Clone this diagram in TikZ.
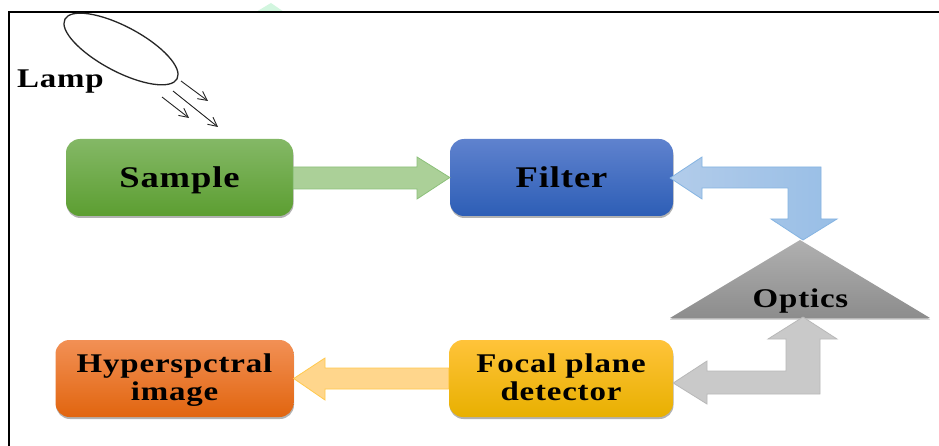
\documentclass[tikz,border=0pt]{standalone}
\usepackage{fontspec}
\setmainfont{Liberation Serif}
\newfontfamily\lblfont[FakeStretch=1.22,LetterSpace=3]{Liberation Serif}
\usetikzlibrary{shapes.geometric,shadows,calc,arrows.meta}
\newcommand{\dnline}[2]{\raisebox{-#1pt}[0pt][0pt]{#2}}
\tikzset{
  box/.style={rounded corners=14pt,minimum height=77pt,inner sep=0pt,align=center,text=black,
    drop shadow={shadow xshift=0.5pt,shadow yshift=-2pt,fill=black,opacity=.3},
    font=\lblfont\bfseries\fontsize{27}{28.5}\selectfont},
  bigtext/.style={font=\lblfont\bfseries\fontsize{30}{30}\selectfont},
  greenbox/.style={box,top color=c1a,middle color=c1b,bottom color=c1c},
  bluebox/.style={box,top color=c2a,middle color=c2b,bottom color=c2c},
  orangebox/.style={box,top color=c3a,middle color=c3b,bottom color=c3c},
  yellowbox/.style={box,top color=c4a,middle color=c4b,bottom color=c4c},
  plainlabel/.style={inner sep=0pt,text=black,font=\lblfont\bfseries\fontsize{27}{28}\selectfont},
  beam/.style={draw=black!85,line width=.9pt,-{Straight Barb[length=9pt,width=9pt]}},
  blockgreen/.style={draw=c5b,line width=.8pt,fill=c5a},
  blockblue/.style={draw=c6b,line width=.8pt,left color=c6a,right color=c6c},
  blockgray/.style={draw=c7b,line width=.8pt,fill=c7a},
  blockyellow/.style={draw=c8b,line width=.8pt,fill=c8a},
}
\definecolor{c1a}{HTML}{84B866}\definecolor{c1b}{HTML}{6DAD40}\definecolor{c1c}{HTML}{5C9E31}
\definecolor{c2a}{HTML}{5F82CE}\definecolor{c2b}{HTML}{416FC8}\definecolor{c2c}{HTML}{2D5EB6}
\definecolor{c3a}{HTML}{F29055}\definecolor{c3b}{HTML}{F47B22}\definecolor{c3c}{HTML}{E1650F}
\definecolor{c4a}{HTML}{FFC33A}\definecolor{c4b}{HTML}{FFC400}\definecolor{c4c}{HTML}{E8B000}
\definecolor{c5a}{HTML}{ABD098}\definecolor{c5b}{HTML}{8CC07A}
\definecolor{c6a}{HTML}{B2CCEA}\definecolor{c6b}{HTML}{85B4E2}\definecolor{c6c}{HTML}{98BEE6}
\definecolor{c7a}{HTML}{C9C9C9}\definecolor{c7b}{HTML}{B8B8B8}
\definecolor{c8a}{HTML}{FFD68C}\definecolor{c8b}{HTML}{FFC94D}
\definecolor{markgreen}{HTML}{D2F6DF}
\begin{document}
\begin{tikzpicture}[x=1pt,y=-1pt]
\useasboundingbox (0,0) rectangle (939,446);
\fill[white] (0,0) rectangle (939,446);
% faint mark above the frame
\fill[markgreen] (256,12) -- (271,3) -- (284,12) -- cycle;
% frame
\draw[black,line width=2pt] (9,446) -- (9,12) -- (939,12);
% lamp
\node[ellipse,draw=black!85,line width=1.3pt,fill=white,minimum width=127pt,minimum height=45pt,inner sep=0pt,rotate=-28] (lamp) at (121,49) {};
\node[plainlabel] (lamplabel) at (60.5,88) {\dnline{0}{Lamp}};
\coordinate (b1s) at (181,81);  \coordinate (b1e) at (208,101);
\coordinate (b2s) at (173,91);  \coordinate (b2e) at (218,127);
\coordinate (b3s) at (162,97);  \coordinate (b3e) at (189,118);
\draw[beam] (b1s) -- (b1e);
\draw[beam] (b2s) -- (b2e);
\draw[beam] (b3s) -- (b3e);
% boxes
\node[greenbox,minimum width=227pt,bigtext] (sample) at (179.5,177.5) {\dnline{10.5}{Sample}};
\node[bluebox,minimum width=223pt,bigtext] (filter) at (561.5,177.5) {\dnline{10.5}{Filter}};
\node[orangebox,minimum width=238pt] (hyper) at (174.5,378.5) {\dnline{8}{Hyperspctral}\\\dnline{8}{image}};
\node[yellowbox,minimum width=224pt] (focal) at (561,378.5) {\dnline{8}{Focal plane}\\\dnline{8}{detector}};
% optics
\coordinate (optop) at (800,240);
\coordinate (opleft) at (670,318);
\coordinate (opright) at (930,318);
\path[top color=black!31,bottom color=black!45,drop shadow={shadow xshift=0pt,shadow yshift=-1.5pt,fill=black,opacity=.25}] (optop) -- (opright) -- (opleft) -- cycle;
\node[plainlabel] (optics) at (800.5,307) {\dnline{0}{Optics}};
% block arrows
\draw[blockgreen] (sample.east |- 0,167) -- (417,167) -- (417,157) -- (filter.west) -- (417,199) -- (417,189) -- (sample.east |- 0,189) -- cycle;
\draw[blockblue] ($(filter.east)+(-3,0.5)$) -- (702,157) -- (702,167) -- (821,167) -- (821,219) -- (837,219) -- ($(optop)+(3,0)$) -- (771,219) -- (788,219) -- (788,188) -- (702,188) -- (702,199) -- cycle;
\draw[blockgray] (focal.east |- 0,383) -- (707,361) -- (707,371) -- (786,371) -- (786,339) -- (768,339) -- (803,317) -- (837,339) -- (820,339) -- (820,394) -- (707,394) -- (707,404) -- cycle;
\draw[blockyellow] (focal.west |- 0,368) -- (325,368) -- (325,358) -- (hyper.east) -- (325,400) -- (325,389) -- (focal.west |- 0,389) -- cycle;
\end{tikzpicture}
\end{document}
